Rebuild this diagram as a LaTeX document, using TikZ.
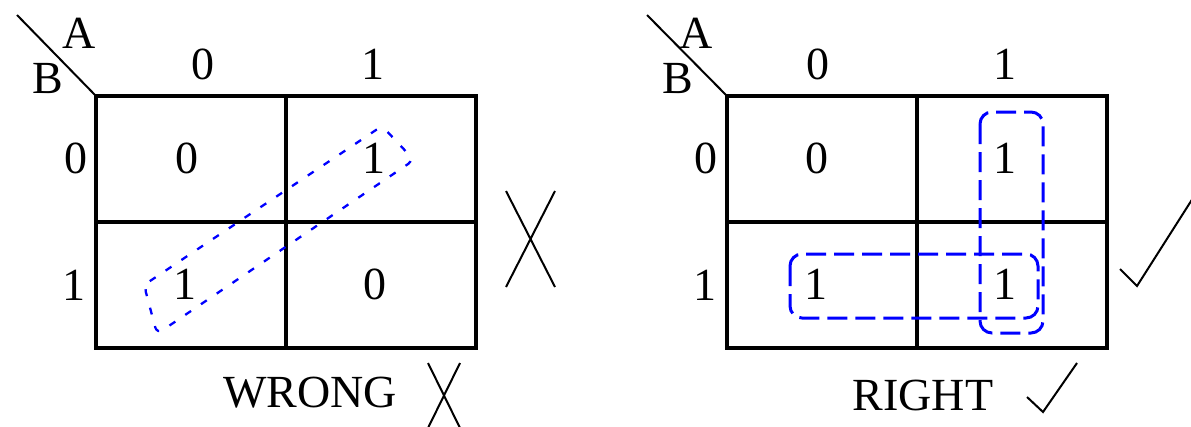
\documentclass[tikz,border=0pt]{standalone}
\usepackage{fontspec}
\setmainfont{Liberation Serif}
\begin{document}
\begin{tikzpicture}[x=1pt,y=-1pt,
  lbl/.style={inner sep=0pt,font=\fontsize{46}{48}\selectfont},
  gridline/.style={line width=3.5pt},
  stroke/.style={line width=2pt},
  loopw/.style={draw=blue,line width=2.3pt,dash pattern=on 7pt off 12pt,rounded corners=7pt},
  loopr/.style={draw=blue,line width=3pt,dash pattern=on 20pt off 8pt,rounded corners=12pt}]
\useasboundingbox (0,0) rectangle (1191,426);
% ---------- left map ----------
\draw[gridline] (96,96) rectangle (476,348);
\draw[gridline] (286,96) -- (286,348);
\draw[gridline] (96,222) -- (476,222);
\coordinate (ld1) at (17,15);
\coordinate (ld2) at (96,96);
\draw[stroke] (ld1) -- (ld2);
\node[lbl] (lA) at (79,33) {A};
\node[lbl] (lB) at (48,79) {B};
\node[lbl] (lc0) at (203,64) {0};
\node[lbl] (lc1) at (373,64) {1};
\node[lbl] (lr0) at (76,158) {0};
\node[lbl] (lr1) at (74,285) {1};
\node[lbl] (l00) at (187,158) {0};
\node[lbl] (l01) at (374,158) {1};
\node[lbl] (l10) at (185,284) {1};
\node[lbl] (l11) at (375,284) {0};
\draw[loopw] (144,285) -- (382,126) -- (414,160) -- (157,334) -- cycle;
\coordinate (bx1) at (506,191); \coordinate (bx2) at (555,287);
\coordinate (bx3) at (555,191); \coordinate (bx4) at (506,287);
\draw[stroke] (bx1) -- (bx2) (bx3) -- (bx4);
\node[lbl] (wrong) at (310,393) {WRONG};
\coordinate (sx1) at (428,363); \coordinate (sx2) at (460,428);
\coordinate (sx3) at (460,363); \coordinate (sx4) at (428,428);
\draw[stroke] (sx1) -- (sx2) (sx3) -- (sx4);
% ---------- right map ----------
\draw[gridline] (727,96) rectangle (1107,348);
\draw[gridline] (917,96) -- (917,348);
\draw[gridline] (727,222) -- (1107,222);
\coordinate (rd1) at (647,15);
\coordinate (rd2) at (727,96);
\draw[stroke] (rd1) -- (rd2);
\node[lbl] (rA) at (696,33) {A};
\node[lbl] (rB) at (678,79) {B};
\node[lbl] (rc0) at (818,64) {0};
\node[lbl] (rc1) at (1005,64) {1};
\node[lbl] (rr0) at (706,158) {0};
\node[lbl] (rr1) at (705,285) {1};
\node[lbl] (r00) at (817,158) {0};
\node[lbl] (r01) at (1005,158) {1};
\node[lbl] (r10) at (816,284) {1};
\node[lbl] (r11) at (1005,284) {1};
\draw[loopr] (980,112) rectangle (1043,333);
\draw[loopr] (790,254) rectangle (1038,318);
\coordinate (bc1) at (1120,269); \coordinate (bc2) at (1137,286); \coordinate (bc3) at (1193,198);
\draw[stroke] (bc1) -- (bc2) -- (bc3);
\node[lbl] (right) at (923,395) {RIGHT};
\coordinate (sc1) at (1027,397); \coordinate (sc2) at (1043,412); \coordinate (sc3) at (1077,363);
\draw[stroke] (sc1) -- (sc2) -- (sc3);
\end{tikzpicture}
\end{document}
